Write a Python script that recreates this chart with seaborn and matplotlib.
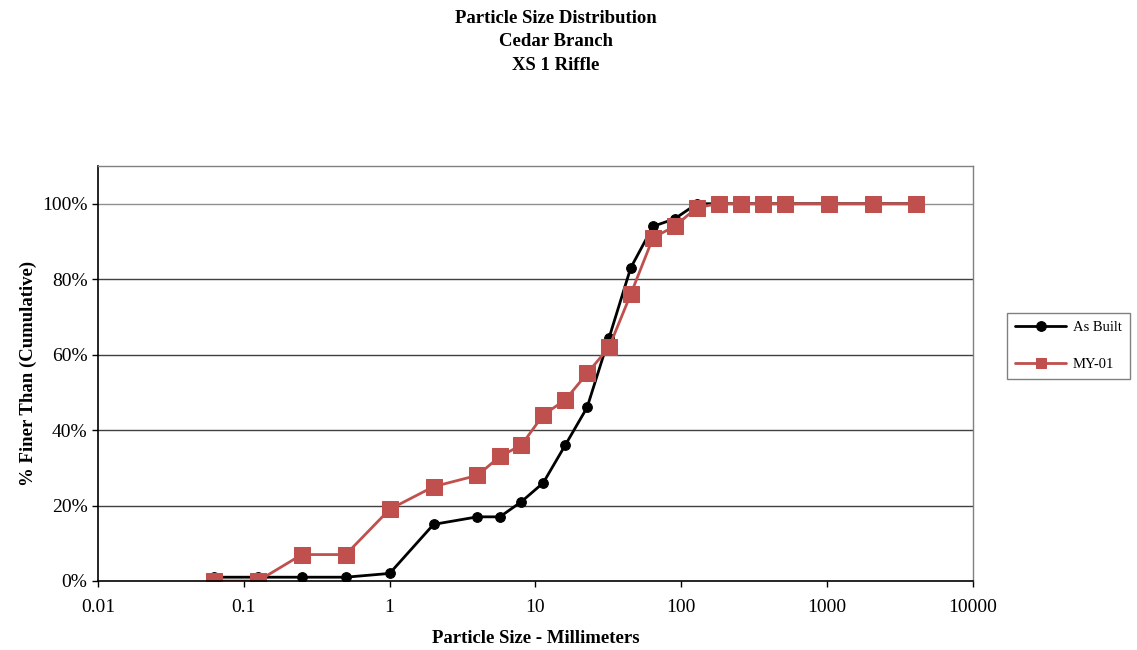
import numpy as np
import pandas as pd
import seaborn as sns
import matplotlib.pyplot as plt
from matplotlib.ticker import FixedLocator, FixedFormatter

##Particle size classes (mm) and cumulative percent finer for each survey
sizes = [0.062, 0.125, 0.25, 0.5, 1, 2, 4, 5.7, 8, 11.3, 16, 22.6, 32, 45, 64, 90,
         128, 180, 256, 362, 512, 1024, 2048, 4096]
as_built = [1, 1, 1, 1, 2, 15, 17, 17, 21, 26, 36, 46, 64.5, 83, 94, 96,
            100, 100, 100, 100, 100, 100, 100, 100]
my01 = [0, 0, 7, 7, 19, 25, 28, 33, 36, 44, 48, 55, 62, 76, 91, 94,
        99, 100, 100, 100, 100, 100, 100, 100]

x_ticks = [0.01, 0.1, 1, 10, 100, 1000, 10000]
x_tick_labels = ['0.01', '0.1', '1', '10', '100', '1000', '10000']
y_ticks = [0, 20, 40, 60, 80, 100]
y_tick_labels = ['0%', '20%', '40%', '60%', '80%', '100%']

df = pd.DataFrame({'size': sizes * 2,
                   'pct': as_built + my01,
                   'survey': ['As Built'] * len(sizes) + ['MY-01'] * len(sizes)})

sns.set_style('white')
plt.rcParams['font.family'] = ['Liberation Serif', 'DejaVu Serif']
plt.rcParams['text.color'] = 'black'
plt.rcParams['axes.labelcolor'] = 'black'
plt.rcParams['xtick.color'] = 'black'
plt.rcParams['ytick.color'] = 'black'

fig = plt.figure(figsize=(11.37, 6.5), dpi=100)
ax = fig.add_axes([0.0862, 0.1062, 0.7695, 0.6384])

colors = {'As Built': 'black', 'MY-01': '#c0504d'}
markers = {'As Built': 'o', 'MY-01': 's'}
sizes_m = {'As Built': 7, 'MY-01': 11}
for name in ['As Built', 'MY-01']:
    sub = df[df['survey'] == name]
    sns.lineplot(data=sub, x='size', y='pct', ax=ax, color=colors[name],
                 marker=markers[name], markersize=sizes_m[name],
                 markeredgecolor=colors[name], linewidth=2, label=name,
                 estimator=None, sort=False)

ax.set_xscale('log')
ax.set_xlim(0.01, 10000)
ax.set_ylim(0, 110)
ax.xaxis.set_major_locator(FixedLocator(x_ticks))
ax.xaxis.set_major_formatter(FixedFormatter(x_tick_labels))
ax.xaxis.set_minor_locator(FixedLocator([]))
ax.set_yticks(y_ticks)
ax.set_yticklabels(y_tick_labels)
ax.tick_params(axis='both', labelsize=14, direction='out', length=4, width=1,
               bottom=True, left=True, colors='black')
ax.tick_params(axis='x', pad=9)

for y in y_ticks[1:]:
    ax.axhline(y, color='#404040' if y < 100 else '#909090', linewidth=1, zorder=0)

for side in ['left', 'bottom']:
    ax.spines[side].set_color('black')
    ax.spines[side].set_linewidth(1.2)
for side in ['top', 'right']:
    ax.spines[side].set_color('#808080')
    ax.spines[side].set_linewidth(1)

ax.set_xlabel('Particle Size - Millimeters', fontsize=13.5, fontweight='bold', labelpad=10)
ax.set_ylabel('% Finer Than (Cumulative)', fontsize=13.5, fontweight='bold', labelpad=4)

fig.text(0.489, 0.985, 'Particle Size Distribution\nCedar Branch\nXS 1 Riffle',
         ha='center', va='top', fontsize=13.5, fontweight='bold', linespacing=1.5)

leg = ax.legend(loc='center left', bbox_to_anchor=(1.031, 0.566), fontsize=10.5,
                frameon=True, fancybox=False, edgecolor='#606060',
                handlelength=3.5, handletextpad=0.45, borderpad=0.55, labelspacing=1.6)
leg.get_frame().set_linewidth(1)
for h in leg.legend_handles:
    h.set_markersize(7)

fig.savefig('out.png', dpi=100)
